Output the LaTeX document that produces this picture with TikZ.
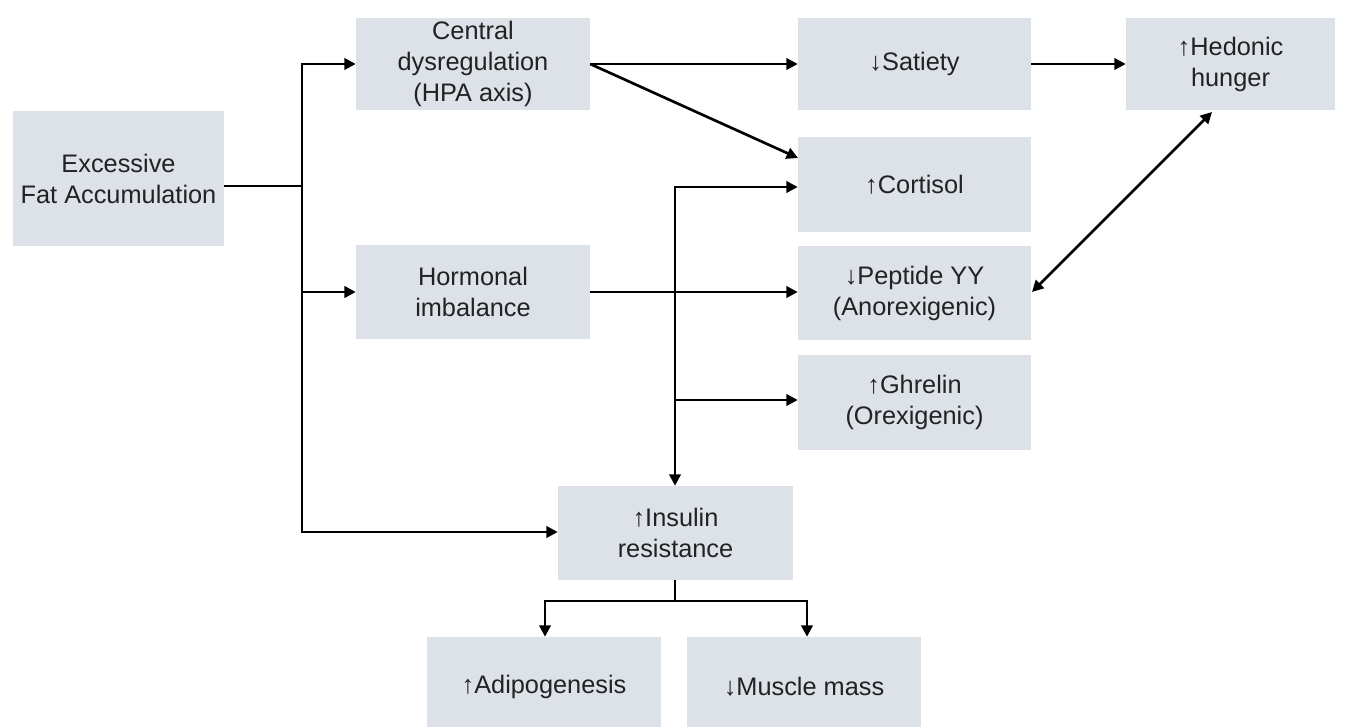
\documentclass[tikz,border=0pt]{standalone}
\usepackage{fontspec}
\setmainfont{Liberation Sans}
\usetikzlibrary{arrows.meta}
\definecolor{boxgray}{HTML}{DDE1E8}
\definecolor{txt}{HTML}{222222}
\begin{document}
\begin{tikzpicture}[x=0.75pt,y=-0.75pt,
  box/.style 2 args={fill=boxgray, draw=none, align=center, inner sep=0pt,
    minimum width=#1*0.75pt, minimum height=#2*0.75pt,
    font=\fontsize{19}{23.2}\selectfont, text=txt},
  line/.style={line width=2pt, line join=miter},
  tip/.tip={Triangle[length=8.5pt,width=8.5pt]},
  conn/.style={line, -tip},
  both/.style={line, tip-tip}]
\useasboundingbox (0,0) rectangle (1349,727);

% boxes
\node[box={211}{135}] (fat) at (118.5,178.5) {Excessive\\Fat Accumulation};
\node[box={234}{92}] (central) at (473,64) {Central\\dysregulation\\(HPA axis)};
\node[box={234}{94}] (hormonal) at (473,292) {Hormonal\\imbalance};
\node[box={233}{92}] (satiety) at (914.5,64) {↓Satiety};
\node[box={209}{92}] (hedonic) at (1230.5,64) {↑Hedonic\\hunger};
\node[box={233}{95}] (cortisol) at (914.5,184.5) {↑Cortisol};
\node[box={233}{94}] (pyy) at (914.5,293) {↓Peptide YY\\(Anorexigenic)};
\node[box={233}{95}] (ghrelin) at (914.5,402.5) {↑Ghrelin\\(Orexigenic)};
\node[box={235}{94}] (insulin) at (675.5,533) {↑Insulin\\resistance};
\node[box={234}{100}] (adipo) at (544,687) {↑Adipogenesis};
\node[box={234}{100}] (muscle) at (804,687) {↓Muscle mass};

% junction coordinates
\coordinate (t1) at (302,64);
\coordinate (t2) at (302,186);
\coordinate (t3) at (302,292);
\coordinate (t4) at (302,532);
\coordinate (cx) at (798,158);
\coordinate (v1) at (675,187);
\coordinate (v2) at (675,400);
\coordinate (h1) at (1212,112);
\coordinate (p1) at (1032,292);
\coordinate (b0) at (675,601);
\coordinate (b1) at (545,601);
\coordinate (b2) at (807,601);

% trunk from fat accumulation
\draw[line] (fat.east |- t2) -- (t2);
\draw[conn] (t4) -- (t1) -- (central.west |- t1);
\draw[conn] (t1) -- (t4) -- (insulin.west |- t4);
\draw[conn] (t3) -- (hormonal.west |- t3);

% central dysregulation
\draw[conn] (central.east) -- (satiety.west);
\draw[conn] (central.east) -- (cx);
\draw[conn] (satiety.east) -- (hedonic.west);
\draw[both] (h1) -- (p1);

% hormonal imbalance
\draw[conn] (hormonal.east) -- (pyy.west |- hormonal.east);

% vertical branch
\draw[both] (cortisol.west |- v1) -- (v1) -- (insulin.north -| v1);
\draw[conn] (v2) -- (ghrelin.west |- v2);

% insulin resistance outcomes
\draw[line] (insulin.south -| b0) -- (b0);
\draw[both] (adipo.north -| b1) -- (b1) -- (b2) -- (muscle.north -| b2);
\end{tikzpicture}
\end{document}
